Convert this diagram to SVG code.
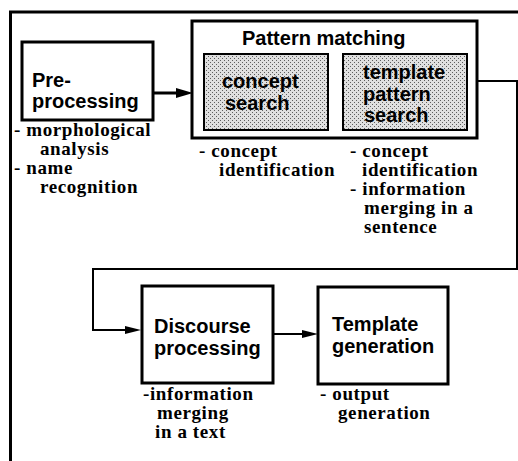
<svg xmlns="http://www.w3.org/2000/svg" width="518" height="461" viewBox="0 0 518 461">
  <defs>
    <!-- stippled grey fill for the sub-steps -->
    <pattern id="stipple" x="0" y="0" width="4" height="4" patternUnits="userSpaceOnUse">
      <rect width="4" height="4" fill="#e0e0e0"/>
      <rect x="0" y="0" width="1" height="1" fill="#5e5e5e"/>
      <rect x="2" y="2" width="1" height="1" fill="#5e5e5e"/>
    </pattern>
    <style>
      .box { fill: #fff; stroke: #000; stroke-width: 3; }
      .sub { fill: url(#stipple); stroke: #000; stroke-width: 2; }
      .title { font-family: "Liberation Sans", Arial, sans-serif; font-weight: bold; font-size: 20px; fill: #000; }
      .note { font-family: "Liberation Serif", "Times New Roman", serif; font-weight: bold; font-size: 19px; letter-spacing: 0.6px; fill: #000; }
      .wire { fill: none; stroke: #000; stroke-width: 2; }
      .head { fill: #000; stroke: none; }
    </style>
  </defs>

  <rect width="518" height="461" fill="#fff"/>

  <!-- surrounding frame (runs past the right and bottom edges) -->
  <path d="M10.5 461 V12 H518" fill="none" stroke="#000" stroke-width="3"/>

  <g id="connectors">
    <line x1="153" y1="93" x2="178" y2="93" stroke="#000" stroke-width="3"/>
    <polygon class="head" points="176,88 193,93 176,98"/>
    <path class="wire" d="M478 81 H517 V269 H93 V330 H128"/>
    <polygon class="head" points="125,326 141,330 125,334"/>
    <line class="wire" x1="273" y1="334" x2="305" y2="334"/>
    <polygon class="head" points="302,330 318,334 302,338"/>
  </g>

  <g id="preprocessing">
    <rect class="box" x="22" y="42" width="131" height="78"/>
    <text class="title" x="32" y="87">Pre-</text>
    <text class="title" x="32" y="108">processing</text>
    <text class="note" x="14" y="136">- morphological</text>
    <text class="note" x="40" y="155">analysis</text>
    <text class="note" x="14" y="174">- name</text>
    <text class="note" x="40" y="193">recognition</text>
  </g>

  <g id="pattern-matching">
    <rect class="box" x="192" y="21" width="285" height="117"/>
    <text class="title" x="242" y="45">Pattern matching</text>
  </g>

  <g id="concept-search">
    <rect class="sub" x="204" y="54" width="124" height="76"/>
    <text class="title" x="222" y="88">concept</text>
    <text class="title" x="225" y="110">search</text>
    <text class="note" x="199" y="157">- concept</text>
    <text class="note" x="219" y="176">identification</text>
  </g>

  <g id="template-pattern-search">
    <rect class="sub" x="343" y="54" width="124" height="76"/>
    <text class="title" x="363" y="79">template</text>
    <text class="title" x="363" y="101">pattern</text>
    <text class="title" x="364" y="122">search</text>
    <text class="note" x="350" y="157">- concept</text>
    <text class="note" x="362" y="176">identification</text>
    <text class="note" x="350" y="195">- information</text>
    <text class="note" x="364" y="214">merging in a</text>
    <text class="note" x="364" y="233">sentence</text>
  </g>

  <g id="discourse-processing">
    <rect class="box" x="142" y="286" width="131" height="97"/>
    <text class="title" x="154" y="333">Discourse</text>
    <text class="title" x="154" y="355">processing</text>
    <text class="note" x="143" y="400">-information</text>
    <text class="note" x="157" y="419">merging</text>
    <text class="note" x="155" y="438">in a text</text>
  </g>

  <g id="template-generation">
    <rect class="box" x="318" y="287" width="130" height="97"/>
    <text class="title" x="332" y="331">Template</text>
    <text class="title" x="332" y="353">generation</text>
    <text class="note" x="320" y="400">- output</text>
    <text class="note" x="338" y="419">generation</text>
  </g>
</svg>
